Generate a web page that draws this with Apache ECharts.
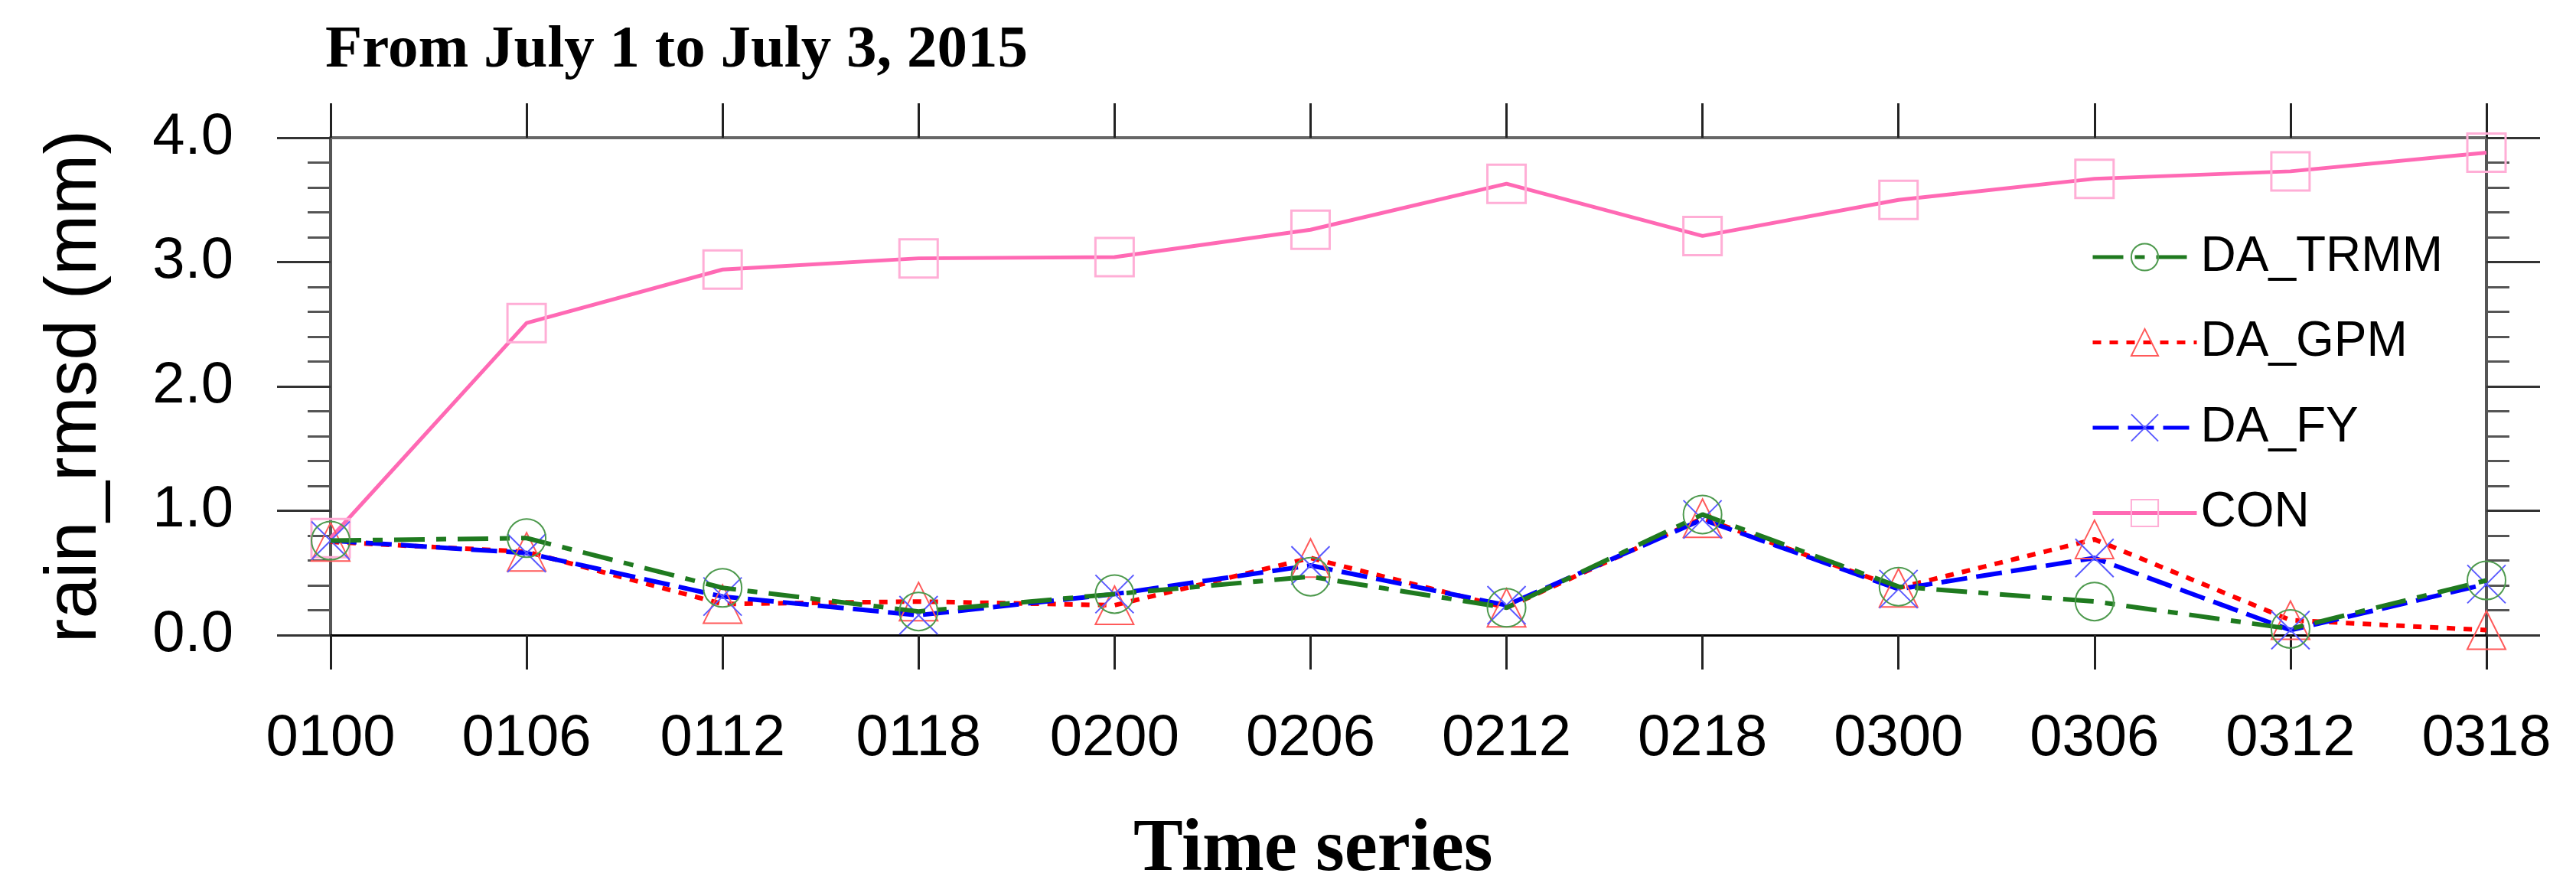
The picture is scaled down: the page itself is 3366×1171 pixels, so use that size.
<!DOCTYPE html>
<html>
<head>
<meta charset="utf-8">
<script src="https://cdn.jsdelivr.net/npm/echarts@6/dist/echarts.min.js"></script>
<style>
html,body{margin:0;padding:0;background:#fff;}
#chart{width:3366px;height:1171px;}
</style>
</head>
<body>
<div id="chart"></div>
<script>
const categories = ['0100','0106','0112','0118','0200','0206','0212','0218','0300','0306','0312','0318'];
const yTickLabels = ['0.0','1.0','2.0','3.0','4.0'];
const daTrmm = [0.76,0.78,0.38,0.19,0.33,0.47,0.22,0.97,0.39,0.27,0.05,0.44];
const daGpm  = [0.75,0.67,0.25,0.27,0.24,0.62,0.22,0.94,0.38,0.77,0.12,0.04];
const daFy   = [0.76,0.66,0.31,0.16,0.33,0.56,0.24,0.93,0.37,0.62,0.04,0.41];
const con    = [0.78,2.51,2.94,3.03,3.04,3.26,3.63,3.21,3.50,3.67,3.73,3.88];
const titleText = 'From July 1 to July 3, 2015';
const xName = 'Time series';
const yName = 'rain_rmsd (mm)';

const chart = echarts.init(document.getElementById('chart'));
const sans = 'Liberation Sans';
const serif = 'Liberation Serif';
const clear = 'rgba(0,0,0,0)';

function yAxisCfg(pos, showLabel) {
  return {
    type: 'value', position: pos, min: 0, max: 4, interval: 1,
    axisLine: {show: true, onZero: false, lineStyle: {color: '#555', width: 4}},
    axisTick: {show: true, inside: false, length: 70, lineStyle: {color: '#333', width: 3}},
    minorTick: {show: true, splitNumber: 5, length: 30, lineStyle: {color: '#555', width: 3}},
    splitLine: {show: false},
    axisLabel: {show: showLabel, margin: 127, fontSize: 76, fontFamily: sans, color: '#000',
      formatter: v => yTickLabels[Math.round(v)]},
  };
}
function xAxisCfg(pos, showLabel, lineColor, lineWidth) {
  return {
    type: 'category', position: pos, data: categories, boundaryGap: false,
    axisLine: {show: true, onZero: false, lineStyle: {color: lineColor, width: lineWidth}},
    axisTick: {show: true, inside: false, interval: 0, length: 45, lineStyle: {color: '#222', width: 3}},
    splitLine: {show: false},
    axisLabel: {show: showLabel, interval: 0, margin: 98, fontSize: 76, fontFamily: sans, color: '#000'},
  };
}

const yLeft = yAxisCfg('left', true);
yLeft.name = yName;
yLeft.nameLocation = 'middle';
yLeft.nameGap = 286;
yLeft.nameRotate = 90;
yLeft.nameTextStyle = {fontSize: 95, fontFamily: sans, color: '#000'};

const option = {
  animation: false,
  backgroundColor: '#fff',
  title: [
    {text: titleText, left: 420, top: 22,
     textStyle: {fontFamily: serif, fontWeight: 'bold', fontSize: 79, color: '#000'}},
    {text: xName, left: 1476, top: 1058,
     textStyle: {fontFamily: serif, fontWeight: 'bold', fontSize: 97, color: '#000'}}
  ],
  grid: {left: 432, right: 117, top: 180, bottom: 341, containLabel: false},
  legend: {
    orient: 'vertical', left: 2727, top: 299,
    itemWidth: 136, itemHeight: 44, itemGap: 47.5,
    lineStyle: {width: 5},
    textStyle: {fontSize: 64, lineHeight: 64, fontFamily: sans, color: '#000'},
    data: ['DA_TRMM', 'DA_GPM', 'DA_FY', 'CON']
  },
  xAxis: [xAxisCfg('bottom', true, '#000', 3), xAxisCfg('top', false, '#666', 4)],
  yAxis: [yLeft, yAxisCfg('right', false)],
  series: [
    {name: 'DA_TRMM', type: 'line', data: daTrmm, xAxisIndex: 0, yAxisIndex: 0,
     symbol: 'circle', symbolSize: 50,
     lineStyle: {color: '#1F7A1F', width: 6, type: [40, 15, 13, 15]},
     itemStyle: {color: clear, borderColor: '#4E9A4E', borderWidth: 2}, z: 4},
    {name: 'DA_GPM', type: 'line', data: daGpm, xAxisIndex: 0, yAxisIndex: 0,
     symbol: 'triangle', symbolSize: 50,
     lineStyle: {color: '#FF0000', width: 6, type: [11, 11]},
     itemStyle: {color: clear, borderColor: '#FF5A5A', borderWidth: 2}, z: 3},
    {name: 'DA_FY', type: 'line', data: daFy, xAxisIndex: 0, yAxisIndex: 0,
     symbol: 'path://M0,0L10,10M10,0L0,10', symbolSize: 50,
     lineStyle: {color: '#0000FF', width: 6, type: [34, 12]},
     itemStyle: {color: clear, borderColor: '#5A5AFF', borderWidth: 2}, z: 3},
    {name: 'CON', type: 'line', data: con, xAxisIndex: 0, yAxisIndex: 0,
     symbol: 'rect', symbolSize: 50,
     lineStyle: {color: '#FF69B4', width: 5, type: 'solid'},
     itemStyle: {color: clear, borderColor: '#FFAED6', borderWidth: 3}, z: 2}
  ]
};
chart.setOption(option);
</script>
</body>
</html>
